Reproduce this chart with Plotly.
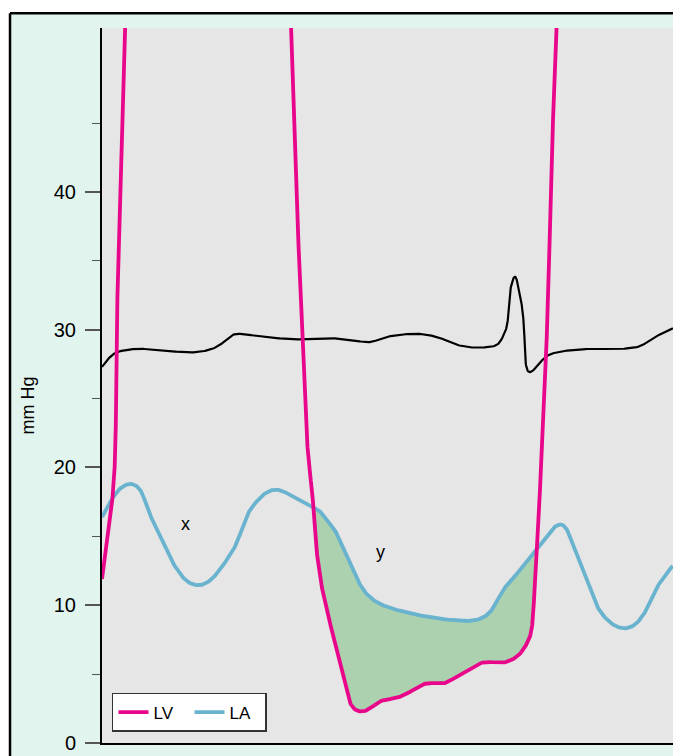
import numpy as np
import plotly.graph_objects as go

# ---- data (time in ms-like units, pressure in mm Hg) ----
lv_t = [0, 5, 9, 11, 13, 15, 17, 19, 21, 23, 26, 32, 45, 90, 150, 178, 185, 189, 192, 194.5,
        200, 207, 210, 213.5, 218, 221, 228, 235, 241, 250, 255, 260, 266, 275, 281, 295, 308,
        321, 331, 341, 351, 361, 371, 378, 388, 401, 415, 421, 428, 431, 433, 435, 438, 442,
        445, 449, 451, 454, 457, 462, 470, 520, 571]
lv_p = [11.9, 14.5, 16.8, 18.2, 20.6, 30.3, 40, 47, 52, 60, 75, 100, 118, 125, 115, 85, 62, 52,
        45.2, 40, 30, 20, 18.4, 14.74, 12.06, 10.9, 8.7, 6.75, 4.79, 2.61, 2.32, 2.25, 2.40,
        2.90, 3.12, 3.27, 3.70, 4.28, 4.36, 4.28, 4.65, 5.08, 5.52, 5.81, 5.88, 5.81, 6.25,
        6.75, 7.70, 9.15, 12.35, 14.3, 18.4, 24.2, 30, 40, 45.2, 52, 60, 75, 95, 120, 120]

la_t = [0, 8, 18, 28, 35, 40, 46, 60, 68, 76, 84, 95, 104, 113, 120, 133, 146, 153, 163, 173,
        181, 190, 196, 210, 218, 223, 231, 241, 255, 265, 275, 288, 321, 348, 371, 381, 388,
        401, 421, 436, 445, 451, 458, 463, 468, 478, 488, 495, 503, 511, 518, 525, 532, 538,
        546, 555, 571]
la_p = [16.4, 17.5, 18.5, 18.9, 18.7, 18.2, 16.9, 14.74, 13.43, 12.49, 11.76, 11.40, 11.55,
        12.13, 12.8, 14.23, 16.7, 17.4, 18.15, 18.45, 18.3, 17.9, 17.6, 17.14, 16.9, 16.3,
        15.7, 14.2, 11.9, 10.75, 10.2, 9.8, 9.22, 8.93, 8.86, 9.08, 9.44, 11.1, 12.8, 14.2,
        15.0, 15.6, 16.0, 15.8, 14.96, 13.07, 11.26, 9.9, 9.08, 8.57, 8.32, 8.28, 8.50, 8.93,
        9.88, 11.33, 12.9]

ecg_t = [0, 3, 13, 33, 60, 90, 110, 120, 130, 136, 160, 193, 226, 253, 268, 286, 310, 323, 338,
         355, 375, 395, 401, 405, 408, 413, 418, 420, 422, 427, 445, 458, 485, 518, 538, 551, 571]
ecg_p = [27.3, 27.6, 28.3, 28.6, 28.5, 28.35, 28.6, 29.0, 29.6, 29.7, 29.5, 29.3, 29.4, 29.2, 29.1,
         29.5, 29.7, 29.65, 29.4, 28.9, 28.7, 28.9, 29.5, 30.3, 32.8, 33.9, 32.4, 31.7, 30.3, 26.9,
         28.1, 28.4, 28.6, 28.6, 28.8, 29.4, 30.1]

y_ticks = [0, 10, 20, 30, 40]
y_minor = [5, 15, 25, 35, 45]
wave_labels = [("x", 83, 15.9), ("y", 278, 13.85)]

C_LV = "#e8068a"
C_LA = "#69b3cf"
C_FILL = "#abd1ae"
C_PLOT = "#e6e6e6"
C_MINT = "#e2f4ee"
FONT = "Liberation Sans, Arial, sans-serif"
Y_SCALE = 13.77  # px per mm Hg, used only for smoothing parameterisation


def smooth(xs, ys, n=16):
    """Centripetal Catmull-Rom through the read points."""
    P = np.column_stack([np.asarray(xs, float), np.asarray(ys, float) * Y_SCALE])
    P = np.vstack([2 * P[0] - P[1], P, 2 * P[-1] - P[-2]])
    out = []
    for i in range(1, len(P) - 2):
        p0, p1, p2, p3 = P[i - 1], P[i], P[i + 1], P[i + 2]

        def tj(ti, a, b):
            return ti + max(np.hypot(*(b - a)), 1e-6) ** 0.5
        t0 = 0.0
        t1 = tj(t0, p0, p1)
        t2 = tj(t1, p1, p2)
        t3 = tj(t2, p2, p3)
        t = np.linspace(t1, t2, n, endpoint=False)[:, None]
        A1 = (t1 - t) / (t1 - t0) * p0 + (t - t0) / (t1 - t0) * p1
        A2 = (t2 - t) / (t2 - t1) * p1 + (t - t1) / (t2 - t1) * p2
        A3 = (t3 - t) / (t3 - t2) * p2 + (t - t2) / (t3 - t2) * p3
        B1 = (t2 - t) / (t2 - t0) * A1 + (t - t0) / (t2 - t0) * A2
        B2 = (t3 - t) / (t3 - t1) * A2 + (t - t1) / (t3 - t1) * A3
        out.append((t2 - t) / (t2 - t1) * B1 + (t - t1) / (t2 - t1) * B2)
    out.append(P[-2][None, :])
    R = np.vstack(out)
    return R[:, 0], R[:, 1]


def refine(X, Y, sigma):
    """Resample by arc length (screen px) and apply a light gaussian smoothing."""
    d = np.hypot(np.diff(X), np.diff(Y))
    s = np.concatenate([[0], np.cumsum(d)])
    ss = np.arange(0, s[-1], 1.0)
    Xr = np.interp(ss, s, X)
    Yr = np.interp(ss, s, Y)
    r = int(3 * sigma)
    k = np.exp(-0.5 * (np.arange(-r, r + 1) / sigma) ** 2)
    k /= k.sum()

    def filt(v):
        pre = 2 * v[0] - v[1:r + 1][::-1]
        post = 2 * v[-1] - v[-r - 1:-1][::-1]
        return np.convolve(np.concatenate([pre, v, post]), k, mode="valid")
    return filt(Xr), filt(Yr) / Y_SCALE


lvx, lvy = refine(*smooth(lv_t, lv_p), sigma=3.5)
lax, lay = refine(*smooth(la_t, la_p), sigma=5.0)
ex, ey = refine(*smooth(ecg_t, ecg_p), sigma=1.5)


# fill between LA (above) and LV (below) during diastole
def seg_interp(x, y, grid, lo, hi):
    m = (x > lo) & (x < hi)
    xs, ys = x[m], y[m]
    o = np.argsort(xs)
    return np.interp(grid, xs[o], ys[o])


grid = np.linspace(195, 450, 2000)
la_g = seg_interp(lax, lay, grid, 150, 470)
lv_g = seg_interp(lvx, lvy, grid, 188, 456)
idx = np.where(la_g > lv_g)[0]
runs = np.split(idx, np.where(np.diff(idx) != 1)[0] + 1)
run = max(runs, key=len)
fx = np.concatenate([grid[run], grid[run][::-1]])
fy = np.concatenate([la_g[run], lv_g[run][::-1]])

fig = go.Figure()
fig.add_trace(go.Scatter(x=fx, y=fy, fill="toself", fillcolor=C_FILL, mode="none",
                         showlegend=False, hoverinfo="skip"))
fig.add_trace(go.Scatter(x=ex, y=ey, mode="lines", line=dict(color="black", width=2.2),
                         showlegend=False, name="ECG"))
fig.add_trace(go.Scatter(x=lax, y=lay, mode="lines", line=dict(color=C_LA, width=3.8),
                         name="LA", legendrank=2))
fig.add_trace(go.Scatter(x=lvx, y=lvy, mode="lines", line=dict(color=C_LV, width=3.8),
                         name="LV", legendrank=1))

for txt, tx, ty in wave_labels:
    fig.add_annotation(x=tx, y=ty, text=txt, showarrow=False,
                       font=dict(family=FONT, size=18, color="black"))

fig.add_annotation(xref="paper", yref="paper", x=-0.1296, y=0.472, text="mm Hg",
                   textangle=-90, showarrow=False, xanchor="center", yanchor="middle",
                   font=dict(family=FONT, size=18, color="black"))

# outer framed panel: white strips outside the frame + black frame lines
BX = -0.1611   # frame left (paper)
BY = 1.0205    # frame top (paper)
fig.add_shape(type="rect", xref="paper", yref="paper", x0=-0.5, x1=1.5, y0=BY, y1=1.5,
              line=dict(width=0), fillcolor="white", layer="below")
fig.add_shape(type="rect", xref="paper", yref="paper", x0=-0.5, x1=BX, y0=-0.5, y1=1.5,
              line=dict(width=0), fillcolor="white", layer="below")
fig.add_shape(type="line", xref="paper", yref="paper", x0=BX, x1=1.5, y0=BY, y1=BY,
              line=dict(color="black", width=2.5))
fig.add_shape(type="line", xref="paper", yref="paper", x0=BX, x1=BX, y0=-0.5, y1=BY,
              line=dict(color="black", width=2.5))

fig.update_xaxes(range=[0, 571], showgrid=False, zeroline=False, showticklabels=False,
                 ticks="", showline=True, linecolor="black", linewidth=2)
fig.update_yaxes(range=[0, 51.9], tickvals=y_ticks, ticks="outside", ticklen=15, tickwidth=1.5,
                 tickcolor="#555", showgrid=False, zeroline=False, showline=True,
                 linecolor="black", linewidth=2, ticklabelstandoff=5,
                 minor=dict(tickvals=y_minor, ticks="outside", ticklen=8,
                            tickwidth=1.2, tickcolor="#555"),
                 tickfont=dict(family=FONT, size=20, color="black"))

fig.update_layout(
    width=673, height=756,
    margin=dict(l=102, r=0, t=28, b=13, pad=0),
    paper_bgcolor=C_MINT, plot_bgcolor=C_PLOT,
    legend=dict(orientation="h", x=0.0175, y=0.0154, xanchor="left", yanchor="bottom",
                bgcolor="white", bordercolor="#333", borderwidth=1.5, entrywidth=31,
                font=dict(family=FONT, size=17, color="black"),
                traceorder="normal"),
)

fig.write_html("out.html", config={"displayModeBar": False},
               post_script="document.body.style.margin='0';document.body.style.overflow='hidden';")
